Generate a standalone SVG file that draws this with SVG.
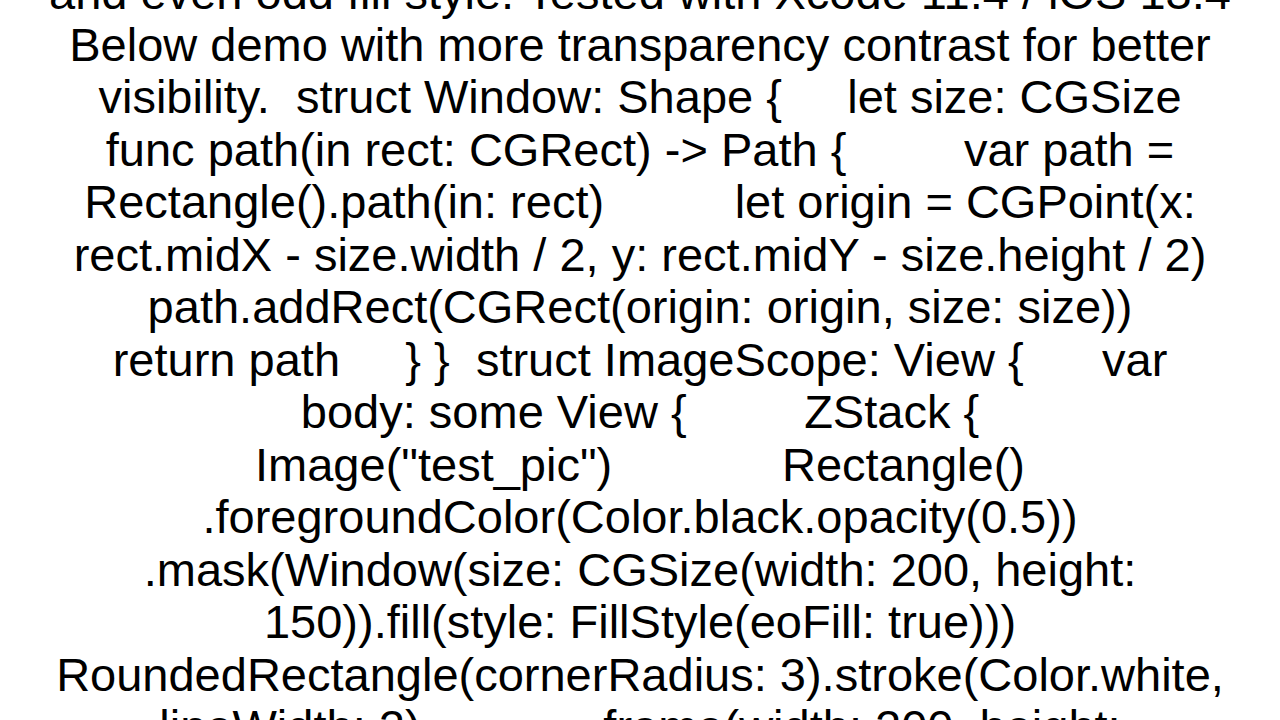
<svg xmlns="http://www.w3.org/2000/svg" width="1280" height="720" viewBox="0 0 1280 720">
<style>text{font-family:"Liberation Sans",Arial,sans-serif;font-size:47px;fill:#000;text-anchor:middle;white-space:pre}</style>
<rect width="1280" height="720" fill="#fff"/>
<text x="640" y="9">and even odd fill style. Tested with Xcode 11.4 / iOS 13.4</text>
<text x="640" y="61">Below demo with more transparency contrast for better</text>
<text x="640" y="113">visibility.  struct Window: Shape {     let size: CGSize</text>
<text x="640" y="166">func path(in rect: CGRect) -&gt; Path {         var path =</text>
<text x="640" y="218">Rectangle().path(in: rect)          let origin = CGPoint(x:</text>
<text x="640" y="271">rect.midX - size.width / 2, y: rect.midY - size.height / 2)</text>
<text x="640" y="323">path.addRect(CGRect(origin: origin, size: size))</text>
<text x="640" y="376">return path     } }  struct ImageScope: View {      var</text>
<text x="640" y="428">body: some View {         ZStack {</text>
<text x="640" y="481">Image("test_pic")             Rectangle()</text>
<text x="640" y="533">.foregroundColor(Color.black.opacity(0.5))</text>
<text x="640" y="586">.mask(Window(size: CGSize(width: 200, height:</text>
<text x="640" y="638">150)).fill(style: FillStyle(eoFill: true)))</text>
<text x="640" y="691">RoundedRectangle(cornerRadius: 3).stroke(Color.white,</text>
<text x="640" y="743">lineWidth: 2)             .frame(width: 200, height:</text>
</svg>
